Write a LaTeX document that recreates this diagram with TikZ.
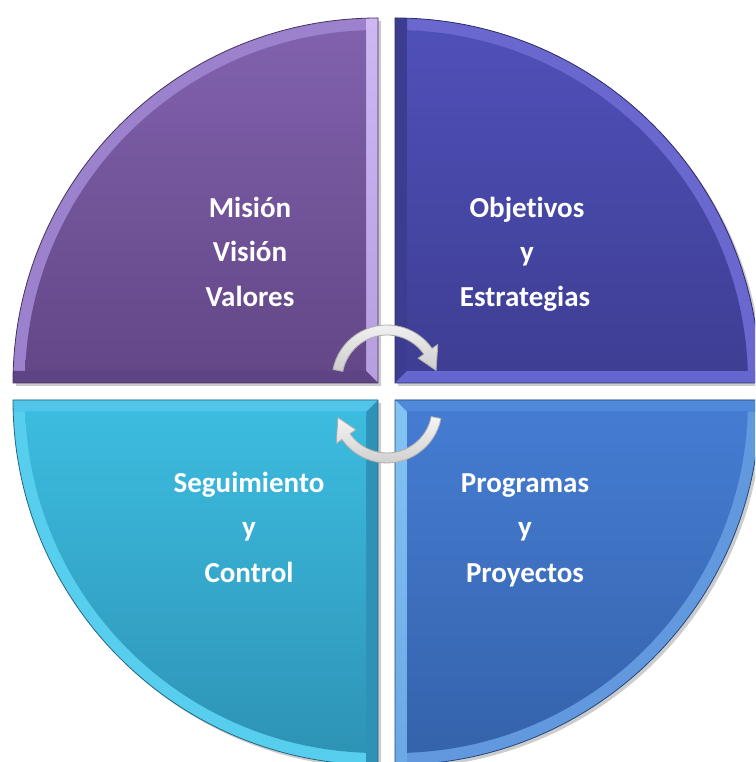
\documentclass[tikz,border=0pt]{standalone}
\usepackage{fontspec}
\setmainfont{Carlito}[Ligatures={NoCommon,NoRequired,NoContextual}]
\definecolor{tlA}{HTML}{8262AE}\definecolor{tlB}{HTML}{634787}
\definecolor{tlArc}{HTML}{9C82CC}\definecolor{tlSide}{HTML}{CDB8F4}\definecolor{tlBot}{HTML}{5E4484}
\definecolor{trA}{HTML}{5050BA}\definecolor{trB}{HTML}{3E3E94}
\definecolor{trArc}{HTML}{6A68CE}\definecolor{trSide}{HTML}{3C3C90}\definecolor{trBot}{HTML}{6666D0}
\definecolor{blA}{HTML}{3CBCE0}\definecolor{blB}{HTML}{2D92B4}
\definecolor{blArc}{HTML}{58CEEE}\definecolor{blSide}{HTML}{2E92B8}\definecolor{blTop}{HTML}{52C6EA}
\definecolor{brA}{HTML}{457CD2}\definecolor{brB}{HTML}{3462AA}
\definecolor{brArc}{HTML}{6298DE}\definecolor{brSide}{HTML}{84C4F2}\definecolor{brTop}{HTML}{5088DA}
\tikzset{
  lbl/.style={font=\fontsize{29}{34}\selectfont\bfseries, text=white, anchor=base, inner sep=0pt},
  quadline/.style={line width=0.8pt},
  shadowfill/.style={fill=black, opacity=0.2},
  arrowshape/.style={top color=gray!8, bottom color=gray!40, draw=gray!65, line width=0.8pt}
}
\begin{document}
\begin{tikzpicture}[x=1pt,y=1pt]
\useasboundingbox (0,0) rectangle (755,762);
\clip (0,0) rectangle (755,762);
\fill[white] (0,0) rectangle (755,762);

% ---------- Top-left (purple) ----------
\fill[shadowfill] (381,376) -- (381,741) arc[start angle=90,end angle=180,radius=365] -- cycle;
\fill[tlArc] (378,379) -- (378,744) arc[start angle=90,end angle=180,radius=365] -- cycle;
\begin{scope}
  \clip (378,379) -- (378,744) arc[start angle=90,end angle=180,radius=365] -- cycle;
  \shade[top color=tlSide, bottom color=tlSide!70!tlA] (378,379) -- (378,744) -- (366,744) -- (366,391) -- cycle;
  \fill[tlBot] (378,379) -- (13,379) -- (13,391) -- (366,391) -- cycle;
\end{scope}
\begin{scope}
  \clip (378,379) circle (353);
  \shade[top color=tlA, bottom color=tlB] (13,391) rectangle (366,744);
\end{scope}
\draw[quadline, draw=tlB!70!black] (378,379) -- (378,744) arc[start angle=90,end angle=180,radius=365] -- cycle;

% ---------- Top-right (indigo) ----------
\fill[shadowfill] (398,376) -- (398,741) arc[start angle=90,end angle=0,radius=365] -- cycle;
\fill[trArc] (395,379) -- (395,744) arc[start angle=90,end angle=0,radius=365] -- cycle;
\begin{scope}
  \clip (395,379) -- (395,744) arc[start angle=90,end angle=0,radius=365] -- cycle;
  \fill[trSide] (395,379) -- (395,744) -- (407,744) -- (407,391) -- cycle;
  \fill[trBot] (395,379) -- (760,379) -- (760,391) -- (407,391) -- cycle;
\end{scope}
\begin{scope}
  \clip (395,379) circle (353);
  \shade[top color=trA, bottom color=trB] (407,391) rectangle (760,744);
\end{scope}
\draw[quadline, draw=trB!70!black] (395,379) -- (395,744) arc[start angle=90,end angle=0,radius=365] -- cycle;

% ---------- Bottom-left (cyan) ----------
\fill[shadowfill] (381,359) -- (16,359) arc[start angle=180,end angle=270,radius=365] -- cycle;
\fill[blArc] (378,362) -- (13,362) arc[start angle=180,end angle=270,radius=365] -- cycle;
\begin{scope}
  \clip (378,362) -- (13,362) arc[start angle=180,end angle=270,radius=365] -- cycle;
  \fill[blTop] (378,362) -- (13,362) -- (13,350) -- (366,350) -- cycle;
  \fill[blSide] (378,362) -- (378,-3) -- (366,-3) -- (366,350) -- cycle;
\end{scope}
\begin{scope}
  \clip (378,362) circle (353);
  \shade[top color=blA, bottom color=blB] (13,-3) rectangle (366,350);
\end{scope}
\draw[quadline, draw=blB!70!black] (378,362) -- (13,362) arc[start angle=180,end angle=270,radius=365] -- cycle;

% ---------- Bottom-right (blue) ----------
\fill[shadowfill] (398,359) -- (763,359) arc[start angle=0,end angle=-90,radius=365] -- cycle;
\fill[brArc] (395,362) -- (760,362) arc[start angle=0,end angle=-90,radius=365] -- cycle;
\begin{scope}
  \clip (395,362) -- (760,362) arc[start angle=0,end angle=-90,radius=365] -- cycle;
  \fill[brTop] (395,362) -- (760,362) -- (760,350) -- (407,350) -- cycle;
  \shade[top color=brSide, bottom color=brSide!60!brA] (395,362) -- (395,-3) -- (407,-3) -- (407,350) -- cycle;
\end{scope}
\begin{scope}
  \clip (395,362) circle (353);
  \shade[top color=brA, bottom color=brB] (407,-3) rectangle (760,350);
\end{scope}
\draw[quadline, draw=brB!70!black] (395,362) -- (760,362) arc[start angle=0,end angle=-90,radius=365] -- cycle;

% ---------- Cycle arrows ----------
\begin{scope}[shift={(387,382)}]
  \shade[arrowshape] (169:55) arc[start angle=169,end angle=35,radius=55]
    -- (35:62) -- (11:50) -- (35:38) -- (35:45)
    arc[start angle=35,end angle=169,radius=45] -- cycle;
\end{scope}
\begin{scope}[shift={(387,354)}]
  \shade[arrowshape] (-11:55) arc[start angle=-11,end angle=-145,radius=55]
    -- (-145:62) -- (-169:50) -- (-145:38) -- (-145:45)
    arc[start angle=-145,end angle=-11,radius=45] -- cycle;
\end{scope}

% ---------- Labels ----------
\node[lbl] (m1) at (250,544) {Misión};
\node[lbl] (m2) at (250,500) {Visión};
\node[lbl] (m3) at (250,455) {Valores};
\node[lbl] (o1) at (527,544) {Objetivos};
\node[lbl] (o2) at (527,500) {y};
\node[lbl] (o3) at (525,455) {Estrategias};
\node[lbl] (s1) at (249,269) {Seguimiento};
\node[lbl] (s2) at (249,225) {y};
\node[lbl] (s3) at (249,179) {Control};
\node[lbl] (p1) at (525,269) {Programas};
\node[lbl] (p2) at (525,225) {y};
\node[lbl] (p3) at (525,179) {Proyectos};
\end{tikzpicture}
\end{document}
